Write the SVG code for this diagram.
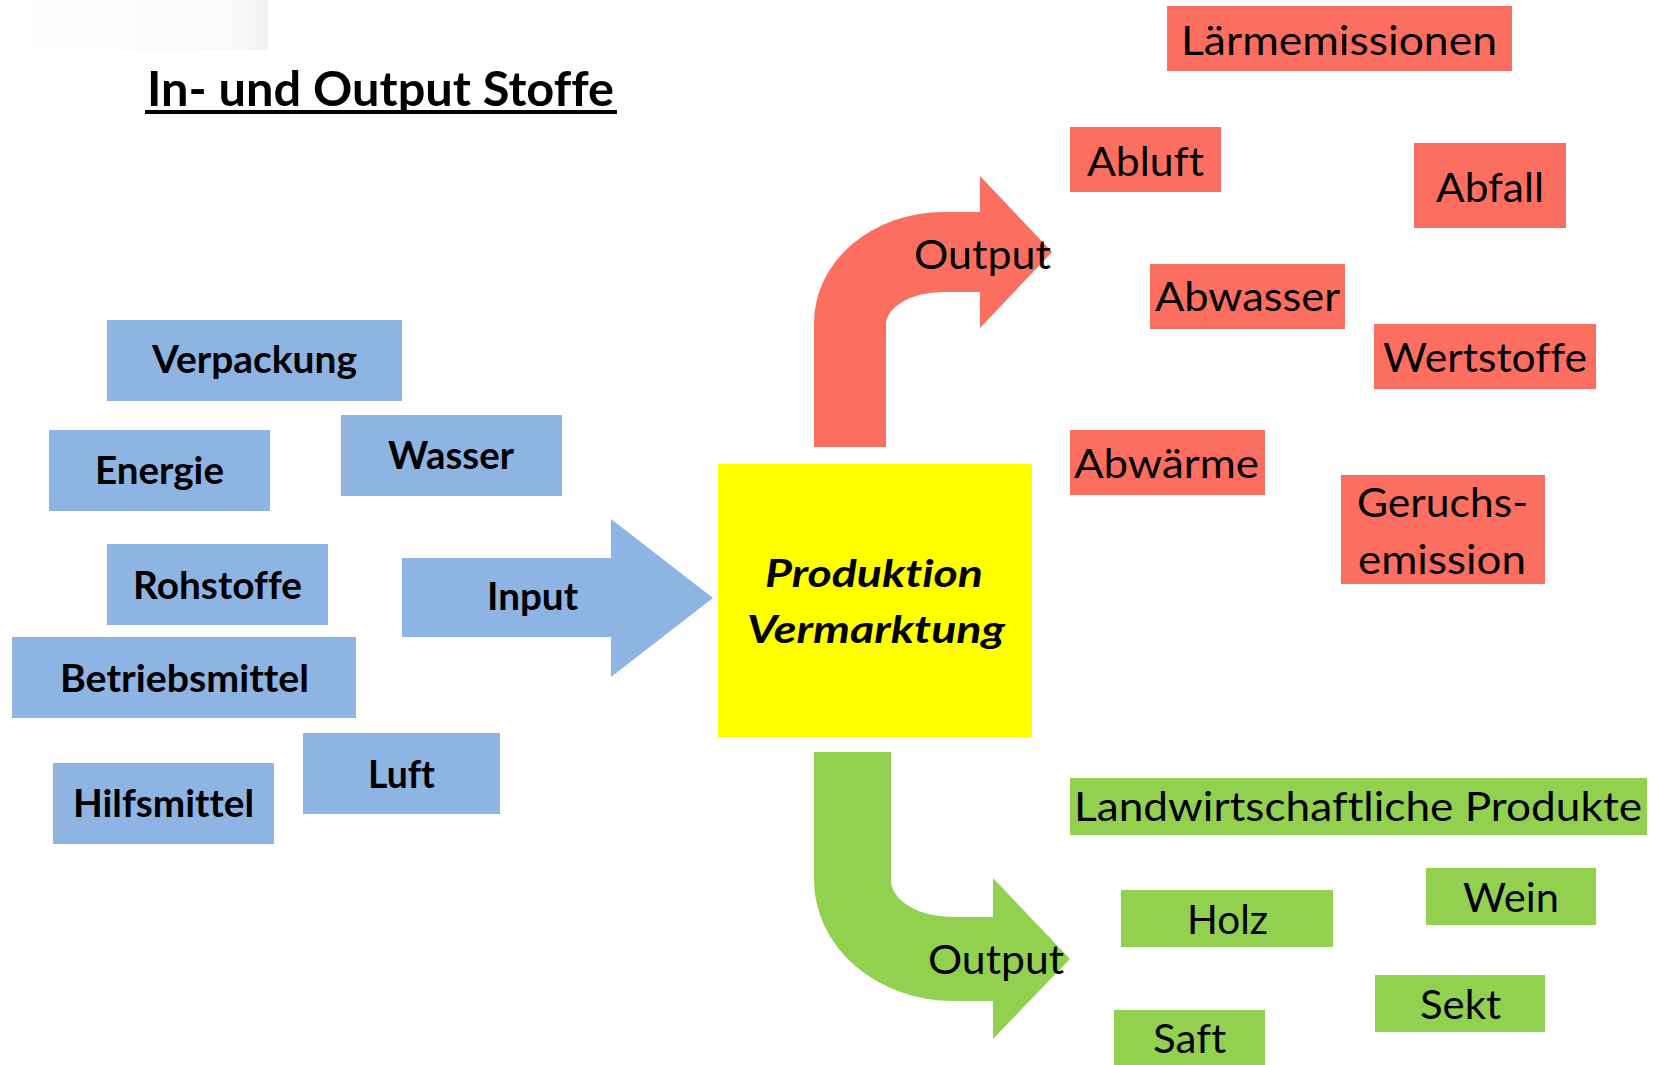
<svg xmlns="http://www.w3.org/2000/svg" width="1655" height="1065" viewBox="0 0 1655 1065">
<defs>
<linearGradient id="shade" x1="0" y1="0" x2="1" y2="0">
<stop offset="0" stop-color="#ffffff"/>
<stop offset="0.9" stop-color="#f9f9f9"/>
<stop offset="1" stop-color="#efefef"/>
</linearGradient>
</defs>
<style>
text{font-variant-ligatures:none;font-feature-settings:"liga" 0,"dlig" 0,"clig" 0}
.blue{fill:#8EB4E3}
.red{fill:#FC6F60}
.green{fill:#92D050}
.tb{font-family:Lato,"Open Sans",sans-serif;font-weight:bold;font-size:38px;fill:#000;text-anchor:middle}
.tr{font-family:Lato,"Open Sans",sans-serif;font-size:41px;fill:#000;text-anchor:middle}
.tc{font-family:Lato,"Open Sans",sans-serif;font-weight:bold;font-style:italic;font-size:38px;fill:#000;text-anchor:middle}
</style>
<rect x="0" y="0" width="268" height="50" fill="url(#shade)"/>
<g id="title">
<text x="380.5" y="106" font-family="Lato,'Open Sans',sans-serif" font-weight="bold" font-size="48" text-anchor="middle" textLength="467" lengthAdjust="spacingAndGlyphs">In- und Output Stoffe</text>
<rect x="145" y="110" width="472" height="4" fill="#000"/>
</g>
<g id="connectors">
<path class="blue" d="M402 558 L611 558 L611 519 L713 598 L611 677 L611 637 L402 637 Z"/>
<path class="red" d="M814 447 L814 323 A129 111 0 0 1 943 212 L980 212 L980 176 L1052 252 L980 328 L980 292 L943 292 A57 33 0 0 0 886 325 L886 447 Z"/>
<path class="green" d="M814 752 L891 752 L891 880 A62 37 0 0 0 953 917 L993 917 L993 878 L1070 959 L993 1039 L993 1001 L953 1001 A139 121 0 0 1 814 880 Z"/>
<text class="tb" x="532.5" y="610" font-size="34" textLength="91" lengthAdjust="spacingAndGlyphs">Input</text>
<text class="tr" x="982.5" y="269" textLength="137" lengthAdjust="spacingAndGlyphs">Output</text>
<text class="tr" x="996" y="974" textLength="136" lengthAdjust="spacingAndGlyphs">Output</text>
</g>
<g id="center">
<rect x="718" y="464" width="314" height="273" fill="#FFFF00"/>
<text class="tc" x="874" y="587" textLength="218" lengthAdjust="spacingAndGlyphs">Produktion</text>
<text class="tc" x="876" y="643" textLength="258" lengthAdjust="spacingAndGlyphs">Vermarktung</text>
</g>
<g id="verpackung"><rect class="blue" x="107" y="320" width="295" height="81"/><text class="tb" x="254.5" y="373" textLength="205" lengthAdjust="spacingAndGlyphs">Verpackung</text></g>
<g id="energie"><rect class="blue" x="49" y="430" width="221" height="81"/><text class="tb" x="159.5" y="484" textLength="129" lengthAdjust="spacingAndGlyphs">Energie</text></g>
<g id="wasser"><rect class="blue" x="341" y="415" width="221" height="81"/><text class="tb" x="451" y="469" textLength="126" lengthAdjust="spacingAndGlyphs">Wasser</text></g>
<g id="rohstoffe"><rect class="blue" x="107" y="544" width="221" height="81"/><text class="tb" x="217.5" y="599" textLength="169" lengthAdjust="spacingAndGlyphs">Rohstoffe</text></g>
<g id="betriebsmittel"><rect class="blue" x="12" y="637" width="344" height="81"/><text class="tb" x="184.5" y="692" textLength="249" lengthAdjust="spacingAndGlyphs">Betriebsmittel</text></g>
<g id="luft"><rect class="blue" x="303" y="733" width="197" height="81"/><text class="tb" x="401.5" y="788" textLength="67" lengthAdjust="spacingAndGlyphs">Luft</text></g>
<g id="hilfsmittel"><rect class="blue" x="53" y="763" width="221" height="81"/><text class="tb" x="163.5" y="817" textLength="181" lengthAdjust="spacingAndGlyphs">Hilfsmittel</text></g>
<g id="laermemissionen"><rect class="red" x="1167" y="6" width="345" height="65"/><text class="tr" x="1339" y="55" textLength="316" lengthAdjust="spacingAndGlyphs">Lärmemissionen</text></g>
<g id="abluft"><rect class="red" x="1070" y="127" width="151" height="65"/><text class="tr" x="1145.5" y="176" textLength="117" lengthAdjust="spacingAndGlyphs">Abluft</text></g>
<g id="abfall"><rect class="red" x="1414" y="143" width="152" height="85"/><text class="tr" x="1490" y="202" textLength="108" lengthAdjust="spacingAndGlyphs">Abfall</text></g>
<g id="abwasser"><rect class="red" x="1150" y="264" width="195" height="65"/><text class="tr" x="1247.5" y="311" textLength="185" lengthAdjust="spacingAndGlyphs">Abwasser</text></g>
<g id="wertstoffe"><rect class="red" x="1374" y="324" width="222" height="65"/><text class="tr" x="1485" y="372" textLength="204" lengthAdjust="spacingAndGlyphs">Wertstoffe</text></g>
<g id="abwaerme"><rect class="red" x="1070" y="430" width="195" height="65"/><text class="tr" x="1166.5" y="478" textLength="185" lengthAdjust="spacingAndGlyphs">Abwärme</text></g>
<g id="geruchsemission"><rect class="red" x="1341" y="475" width="204" height="109"/><text class="tr" x="1442.5" y="517" textLength="171" lengthAdjust="spacingAndGlyphs">Geruchs-</text><text class="tr" x="1442" y="574" textLength="168" lengthAdjust="spacingAndGlyphs">emission</text></g>
<g id="landwirtschaftliche"><rect class="green" x="1070" y="778" width="577" height="57"/><text class="tr" x="1358" y="821" textLength="568" lengthAdjust="spacingAndGlyphs">Landwirtschaftliche Produkte</text></g>
<g id="holz"><rect class="green" x="1121" y="890" width="212" height="57"/><text class="tr" x="1227.5" y="934" textLength="81" lengthAdjust="spacingAndGlyphs">Holz</text></g>
<g id="wein"><rect class="green" x="1426" y="868" width="170" height="57"/><text class="tr" x="1511" y="912" textLength="96" lengthAdjust="spacingAndGlyphs">Wein</text></g>
<g id="sekt"><rect class="green" x="1375" y="975" width="170" height="57"/><text class="tr" x="1460.5" y="1019" textLength="81" lengthAdjust="spacingAndGlyphs">Sekt</text></g>
<g id="saft"><rect class="green" x="1114" y="1010" width="151" height="55"/><text class="tr" x="1189.5" y="1053" textLength="73" lengthAdjust="spacingAndGlyphs">Saft</text></g>
</svg>
